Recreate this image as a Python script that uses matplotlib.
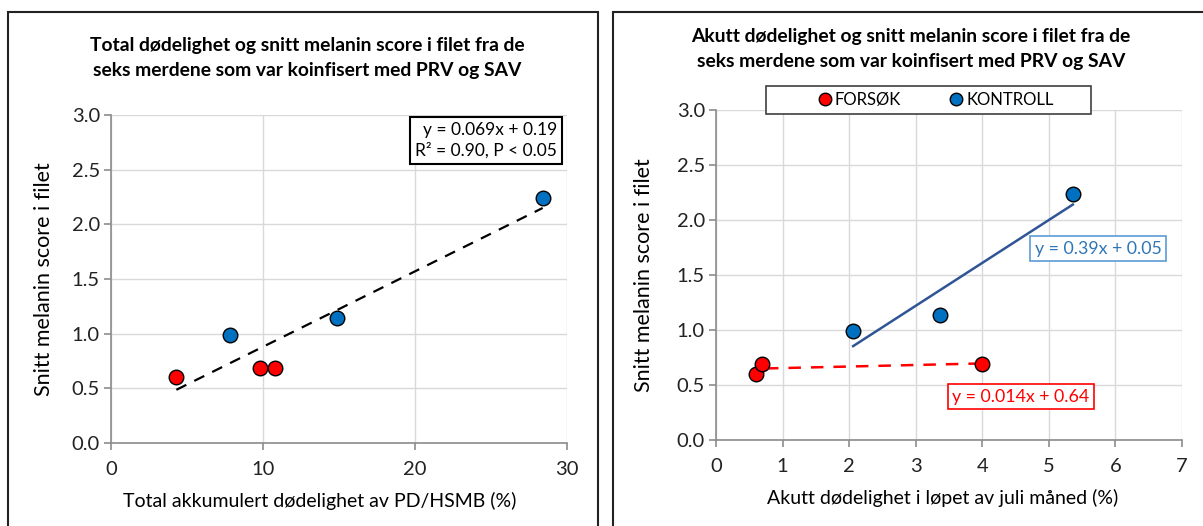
import matplotlib.pyplot as plt
from matplotlib.patches import Rectangle
from matplotlib.lines import Line2D

plt.rcParams['font.family'] = ['Lato', 'DejaVu Sans']

# Left panel: total mortality (%) vs mean melanin score
tot_forsok_x = [4.3, 9.8, 10.8]
tot_forsok_y = [0.60, 0.69, 0.69]
tot_kontroll_x = [7.8, 14.9, 28.4]
tot_kontroll_y = [0.99, 1.14, 2.24]
tot_fit = (0.069, 0.19)
tot_fit_range = [4.3, 28.4]

# Right panel: acute mortality in July (%) vs mean melanin score
ak_forsok_x = [0.60, 0.69, 4.0]
ak_forsok_y = [0.60, 0.69, 0.69]
ak_kontroll_x = [2.06, 3.36, 5.36]
ak_kontroll_y = [0.99, 1.14, 2.24]
ak_fit_forsok = (0.014, 0.64)
ak_fit_forsok_range = [0.75, 4.0]
ak_fit_kontroll = (0.39, 0.05)
ak_fit_kontroll_range = [2.06, 5.36]

RED = '#FF0000'
BLUE = '#0070C0'
W, H = 1203, 526

fig = plt.figure(figsize=(W / 100, H / 100), dpi=100)

# panel frames
for x0, x1 in [(8, 598), (613, 1210)]:
    fig.patches.append(Rectangle((x0 / W, -0.05), (x1 - x0) / W, 1.05 - 12 / H,
                                 transform=fig.transFigure, fill=False,
                                 edgecolor='#222222', linewidth=1.5))


def style_axes(ax, xmax, xstep):
    ax.set_ylim(0, 3.0)
    ax.set_yticks([0, 0.5, 1.0, 1.5, 2.0, 2.5, 3.0])
    ax.set_yticklabels(['0.0', '0.5', '1.0', '1.5', '2.0', '2.5', '3.0'])
    ax.set_xlim(0, xmax)
    ax.set_xticks(range(0, xmax + 1, xstep))
    ax.grid(True, color='#D9D9D9', linewidth=1)
    ax.set_axisbelow(True)
    for s in ['top', 'right']:
        ax.spines[s].set_visible(False)
    for s in ['left', 'bottom']:
        ax.spines[s].set_color('#8C8C8C')
        ax.spines[s].set_linewidth(1.2)
    ax.tick_params(axis='both', labelsize=14.5, colors='#8C8C8C', labelcolor='#222222',
                   length=5, width=1.2)
    ax.tick_params(axis='x', pad=8)
    ax.tick_params(axis='y', pad=3)


def dots(ax, x, y, color):
    ax.scatter(x, y, s=110, color=color, edgecolor='black', linewidth=1, zorder=4)


# ---- left panel
ax1 = fig.add_axes([111 / W, 1 - 443 / H, (567 - 111) / W, (443 - 115) / H])
style_axes(ax1, 30, 10)
a, b = tot_fit
ax1.plot(tot_fit_range, [a * v + b for v in tot_fit_range], color='black',
         linestyle=(0, (5, 4)), linewidth=1.6, zorder=3)
dots(ax1, tot_forsok_x, tot_forsok_y, RED)
dots(ax1, tot_kontroll_x, tot_kontroll_y, BLUE)
ax1.text(0.978, 0.979, 'y = 0.069x + 0.19\nR² = 0.90, P < 0.05', transform=ax1.transAxes,
         ha='right', va='top', fontsize=12.5, linespacing=1.35,
         bbox=dict(boxstyle='square,pad=0.3', facecolor='white', edgecolor='black', linewidth=1.5))
ax1.set_xlabel('Total akkumulert dødelighet av PD/HSMB (%)', fontsize=14)
ax1.xaxis.set_label_coords(0.458, -0.149)
ax1.set_ylabel('Snitt melanin score i filet', fontsize=15.5, labelpad=13)
fig.text(307 / W, 1 - 58 / H,
         'Total dødelighet og snitt melanin score i filet fra de\nseks merdene som var koinfisert med PRV og SAV',
         ha='center', va='center', fontsize=13.9, fontweight='bold', linespacing=1.55)

# ---- right panel
ax2 = fig.add_axes([716 / W, 1 - 440 / H, (1182 - 716) / W, (440 - 110) / H])
style_axes(ax2, 7, 1)
a, b = ak_fit_kontroll
ax2.plot(ak_fit_kontroll_range, [a * v + b for v in ak_fit_kontroll_range],
         color='#2F5597', linewidth=1.8, zorder=3)
a, b = ak_fit_forsok
ax2.plot(ak_fit_forsok_range, [a * v + b for v in ak_fit_forsok_range],
         color=RED, linestyle=(0, (5, 4)), linewidth=1.8, zorder=3)
dots(ax2, ak_forsok_x, ak_forsok_y, RED)
dots(ax2, ak_kontroll_x, ak_kontroll_y, BLUE)
ax2.text(5.74, 1.74, 'y = 0.39x + 0.05', ha='center', va='center', fontsize=12.8,
         color='#2E75B6',
         bbox=dict(boxstyle='square,pad=0.25', facecolor='white', edgecolor='#5B9BD5', linewidth=1.2))
ax2.text(4.58, 0.395, 'y = 0.014x + 0.64', ha='center', va='center', fontsize=12.8,
         color=RED,
         bbox=dict(boxstyle='square,pad=0.25', facecolor='white', edgecolor=RED, linewidth=1.2))
ax2.set_xlabel('Akutt dødelighet i løpet av juli måned (%)', fontsize=14)
ax2.xaxis.set_label_coords(0.487, -0.148)
ax2.set_ylabel('Snitt melanin score i filet', fontsize=15.5, labelpad=16)
fig.text(911 / W, 1 - 49 / H,
         'Akutt dødelighet og snitt melanin score i filet fra de\nseks merdene som var koinfisert med PRV og SAV',
         ha='center', va='center', fontsize=13.9, fontweight='bold', linespacing=1.55)

# legend box (frame drawn separately to match the wide reference box)
fig.patches.append(Rectangle((766 / W, 1 - 114 / H), (1091 - 766) / W, 28 / H,
                             transform=fig.transFigure, facecolor='white',
                             edgecolor='#404040', linewidth=1.2, zorder=5))
handles = [Line2D([], [], marker='o', linestyle='none', markersize=9,
                  markerfacecolor=RED, markeredgecolor='black', label='FORSØK'),
           Line2D([], [], marker='o', linestyle='none', markersize=9,
                  markerfacecolor=BLUE, markeredgecolor='black', label='KONTROLL')]
leg = fig.legend(handles=handles, loc='center', bbox_to_anchor=(935 / W, 1 - 100 / H),
                 ncol=2, fontsize=12, frameon=False,
                 handletextpad=0.1, columnspacing=2.8, borderaxespad=0,
                 handlelength=1.0)
leg.set_zorder(6)

fig.savefig('out.png', dpi=100)
